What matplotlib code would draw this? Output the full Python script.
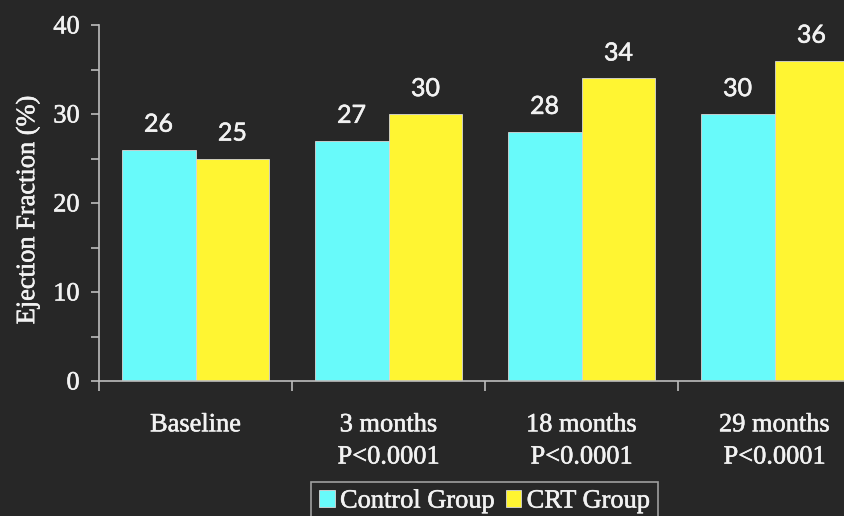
import matplotlib
matplotlib.use("Agg")
import matplotlib.pyplot as plt
import matplotlib.patheffects as pe
from matplotlib.ticker import MultipleLocator, FixedLocator
import numpy as np

# ejection fraction by follow-up visit
periods = ["Baseline", "3 months\nP<0.0001", "18 months\nP<0.0001", "29 months\nP<0.0001"]
control = [26, 27, 28, 30]
crt = [25, 30, 34, 36]
series_names = ["Control Group", "CRT Group"]

bg = "#272727"
fg = "#f2f2f2"
axis_col = "#bdbdbd"
cyan = "#68fafa"
yellow = "#fff532"
serif = "Liberation Serif"
heavy = [pe.withStroke(linewidth=0.4, foreground=fg)]

fig = plt.figure(figsize=(8.44, 5.16), dpi=100, facecolor=bg)
# axes runs off the right edge of the figure on purpose
ax = fig.add_axes([99 / 844, 1 - 381 / 516, 772 / 844, 356 / 516], facecolor=bg)

x = np.arange(len(periods))
w = 0.383
b1 = ax.bar(x - w / 2, control, w, color=cyan, edgecolor="#d8d8d8", linewidth=0.6,
            label=series_names[0])
b2 = ax.bar(x + w / 2, crt, w, color=yellow, edgecolor="#d8d8d8", linewidth=0.6,
            label=series_names[1])

for bars, vals in ((b1, control), (b2, crt)):
    for r, v in zip(bars, vals):
        ax.annotate(str(v), (r.get_x() + r.get_width() / 2, v), xytext=(0, 10),
                    textcoords="offset points", ha="center", va="bottom",
                    color=fg, fontsize=18, family="Lato", path_effects=heavy)

ax.set_xlim(-0.5, len(periods) - 0.5)
ax.set_ylim(0, 40)

for s in ("top", "right"):
    ax.spines[s].set_visible(False)
for s in ("left", "bottom"):
    ax.spines[s].set_color(axis_col)
    ax.spines[s].set_linewidth(1.2)

ax.yaxis.set_major_locator(MultipleLocator(10))
ax.yaxis.set_minor_locator(MultipleLocator(5))
ax.tick_params(axis="y", which="both", direction="out", length=6, width=1.2,
               color=axis_col, labelcolor=fg, labelsize=19, pad=8)
for lab in ax.get_yticklabels():
    lab.set_family(serif)
    lab.set_path_effects(heavy)

# tick marks at group boundaries, labels at group centres
ax.xaxis.set_major_locator(FixedLocator(np.arange(-0.5, len(periods), 1.0)))
ax.xaxis.set_minor_locator(FixedLocator(x))
ax.set_xticklabels([], minor=False)
ax.set_xticklabels(periods, minor=True, family=serif, fontsize=19, color=fg,
                   linespacing=1.6, path_effects=heavy)
ax.tick_params(axis="x", which="major", direction="out", length=7, width=1.2,
               color=axis_col)
ax.tick_params(axis="x", which="minor", length=0, pad=24)

fig.text(28 / 844, 1 - 210 / 516, "Ejection Fraction (%)", rotation=90,
         ha="center", va="center", color=fg, fontsize=19, family=serif,
         path_effects=heavy)

leg = fig.legend(handles=[b1, b2], loc="upper left",
                 bbox_to_anchor=(311 / 844, 1 - 482 / 516), ncol=2,
                 frameon=True, fancybox=False, facecolor=bg, edgecolor=axis_col,
                 handlelength=0.6, handleheight=0.6, handletextpad=0.2,
                 columnspacing=0.4, borderpad=0.3, borderaxespad=0,
                 prop={"family": serif, "size": 19})
leg.get_frame().set_linewidth(1.2)
for t in leg.get_texts():
    t.set_color(fg)
    t.set_path_effects(heavy)

fig.savefig("out.png", dpi=100, facecolor=bg)
